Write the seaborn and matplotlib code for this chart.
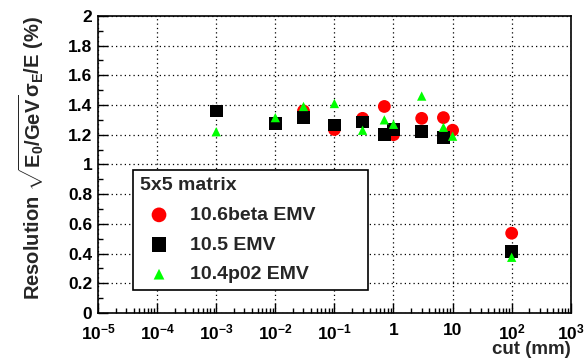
import matplotlib
matplotlib.use("Agg")

import matplotlib.pyplot as plt
import matplotlib.ticker as mticker
import numpy as np
import pandas as pd
import seaborn as sns

# data
cut_red = [0.03, 0.1, 0.3, 0.7, 1.0, 3.0, 7.0, 10.0, 100.0]
res_red = [1.36, 1.235, 1.31, 1.39, 1.20, 1.31, 1.315, 1.23, 0.537]

cut_black = [0.001, 0.01, 0.03, 0.1, 0.3, 0.7, 1.0, 3.0, 7.0, 100.0]
res_black = [1.36, 1.275, 1.315, 1.265, 1.285, 1.20, 1.235, 1.22, 1.18, 0.413]

cut_green = [0.001, 0.01, 0.03, 0.1, 0.3, 0.7, 1.0, 3.0, 7.0, 10.0, 100.0]
res_green = [1.22, 1.315, 1.39, 1.41, 1.23, 1.30, 1.27, 1.46, 1.25, 1.19, 0.375]

labels = ["10.6beta EMV", "10.5 EMV", "10.4p02 EMV"]

sns.set_theme(style="white")
plt.rcParams["font.family"] = ["Liberation Sans", "DejaVu Sans"]
plt.rcParams["font.weight"] = "bold"
plt.rcParams["mathtext.fontset"] = "custom"
plt.rcParams["mathtext.rm"] = "Liberation Sans:bold"
plt.rcParams["mathtext.it"] = "Liberation Sans:bold"
plt.rcParams["mathtext.bf"] = "Liberation Sans:bold"
plt.rcParams["mathtext.default"] = "bf"

fig = plt.figure(figsize=(5.88, 3.6), dpi=100)
ax = fig.add_axes([0.1667, 0.1306, 0.804, 0.8254])

df_red = pd.DataFrame({"cut": cut_red, "res": res_red})
df_black = pd.DataFrame({"cut": cut_black, "res": res_black})
df_green = pd.DataFrame({"cut": cut_green, "res": res_green})

sns.scatterplot(data=df_red, x="cut", y="res", ax=ax, color="#ff0000",
                marker="o", s=85, edgecolor="none", label=labels[0], zorder=3)
sns.scatterplot(data=df_black, x="cut", y="res", ax=ax, color="black",
                marker="s", s=85, edgecolor="none", label=labels[1], zorder=4)
sns.scatterplot(data=df_green, x="cut", y="res", ax=ax, color="#00ff00",
                marker="^", s=45, edgecolor="none", label=labels[2], zorder=5)

ax.set_xscale("log")
ax.set_xlim(1e-5, 1e3)
ax.set_ylim(0, 2)

ax.xaxis.set_major_locator(mticker.LogLocator(base=10, numticks=20))
ax.xaxis.set_minor_locator(mticker.LogLocator(base=10, subs=np.arange(2, 10), numticks=20))


def xfmt(v, pos):
    e = int(round(np.log10(v)))
    if e == 0:
        return "1"
    if e == 1:
        return "10"
    return r"$10^{%d}$" % e


ax.xaxis.set_major_formatter(mticker.FuncFormatter(xfmt))
ax.yaxis.set_major_locator(mticker.MultipleLocator(0.2))
ax.yaxis.set_minor_locator(mticker.MultipleLocator(0.1))
ax.yaxis.set_major_formatter(mticker.FuncFormatter(lambda v, p: f"{v:g}"))

ax.tick_params(axis="both", which="major", direction="in", length=7, width=1,
               labelsize=12.5, color="black", labelcolor="black")
ax.tick_params(axis="y", which="major", pad=4)
ax.tick_params(axis="x", which="major", pad=7)
ax.tick_params(axis="both", which="minor", direction="in", length=3.5, width=1,
               color="black")
ax.tick_params(axis="both", which="both", bottom=True, left=True, top=False, right=False)

for sp in ax.spines.values():
    sp.set_color("black")
    sp.set_linewidth(1.2)

ax.grid(True, which="major", color="black", linestyle=(0, (1, 2.5)), linewidth=0.9)

ax.set_xlabel("cut (mm)", fontsize=13.5, fontweight="bold", loc="right", labelpad=-1)
ax.set_ylabel(r"Resolution $\sqrt{E_0/GeV}\sigma_E/E$ (%)", fontsize=14.5,
              fontweight="bold", loc="top", labelpad=16)

leg = ax.legend(title="5x5 matrix", loc="lower left",
                bbox_to_anchor=(0.0735, 0.077, 0.4975, 0.394), mode="expand",
                frameon=True, fancybox=False, edgecolor="black", framealpha=1,
                fontsize=14, title_fontsize=14, labelspacing=0.62,
                handletextpad=0.6, borderpad=0.35, handlelength=2.0,
                markerscale=1.15, borderaxespad=0)
leg.get_frame().set_linewidth(1.2)
leg._legend_box.align = "left"
leg.get_title().set_fontweight("bold")

fig.savefig("out.png", dpi=100)
